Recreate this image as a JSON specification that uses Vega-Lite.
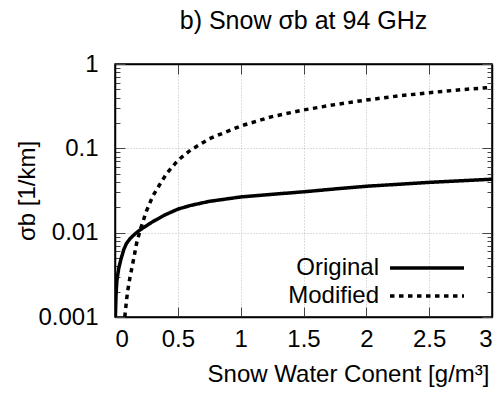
{
  "$schema": "https://vega.github.io/schema/vega-lite/v6.json",
  "width": 377,
  "height": 253,
  "autosize": {"type": "none"},
  "padding": {"left": 115, "top": 64, "right": 10, "bottom": 82},
  "background": "white",
  "title": {"text": "b) Snow σb at 94 GHz", "font": "Liberation Sans", "fontSize": 25, "fontWeight": "normal", "color": "black", "baseline": "bottom", "offset": -7, "anchor": "middle", "frame": "group"},
  "config": {
    "view": {"stroke": "black", "strokeWidth": 1.5},
    "axis": {"labelFont": "Liberation Sans", "titleFont": "Liberation Sans", "labelFontSize": 24, "titleFontSize": 24, "labelColor": "black", "titleColor": "black", "titleFontWeight": "normal", "domainColor": "black", "tickColor": "#444", "gridColor": "#bbbbbb", "gridDash": [1, 2], "gridWidth": 1}
  },
  "datasets": {
    "curves": [
      {"swc": 0.003, "sb": 0.001, "series": "Original"},
      {"swc": 0.008, "sb": 0.0018, "series": "Original"},
      {"swc": 0.015, "sb": 0.0027, "series": "Original"},
      {"swc": 0.03, "sb": 0.0038, "series": "Original"},
      {"swc": 0.05, "sb": 0.005, "series": "Original"},
      {"swc": 0.07, "sb": 0.0063, "series": "Original"},
      {"swc": 0.09, "sb": 0.0074, "series": "Original"},
      {"swc": 0.12, "sb": 0.0085, "series": "Original"},
      {"swc": 0.16, "sb": 0.0097, "series": "Original"},
      {"swc": 0.2, "sb": 0.0108, "series": "Original"},
      {"swc": 0.3, "sb": 0.0135, "series": "Original"},
      {"swc": 0.4, "sb": 0.0163, "series": "Original"},
      {"swc": 0.5, "sb": 0.019, "series": "Original"},
      {"swc": 0.6, "sb": 0.021, "series": "Original"},
      {"swc": 0.75, "sb": 0.0235, "series": "Original"},
      {"swc": 1.0, "sb": 0.0265, "series": "Original"},
      {"swc": 1.25, "sb": 0.0285, "series": "Original"},
      {"swc": 1.5, "sb": 0.0305, "series": "Original"},
      {"swc": 1.75, "sb": 0.033, "series": "Original"},
      {"swc": 2.0, "sb": 0.0355, "series": "Original"},
      {"swc": 2.5, "sb": 0.0395, "series": "Original"},
      {"swc": 3.0, "sb": 0.043, "series": "Original"},
      {"swc": 0.078, "sb": 0.001, "series": "Modified"},
      {"swc": 0.09, "sb": 0.0015, "series": "Modified"},
      {"swc": 0.1, "sb": 0.002, "series": "Modified"},
      {"swc": 0.12, "sb": 0.003, "series": "Modified"},
      {"swc": 0.15, "sb": 0.005, "series": "Modified"},
      {"swc": 0.172, "sb": 0.0075, "series": "Modified"},
      {"swc": 0.2, "sb": 0.0107, "series": "Modified"},
      {"swc": 0.25, "sb": 0.018, "series": "Modified"},
      {"swc": 0.3, "sb": 0.027, "series": "Modified"},
      {"swc": 0.35, "sb": 0.036, "series": "Modified"},
      {"swc": 0.41, "sb": 0.05, "series": "Modified"},
      {"swc": 0.5, "sb": 0.072, "series": "Modified"},
      {"swc": 0.6, "sb": 0.095, "series": "Modified"},
      {"swc": 0.75, "sb": 0.13, "series": "Modified"},
      {"swc": 1.0, "sb": 0.184, "series": "Modified"},
      {"swc": 1.25, "sb": 0.238, "series": "Modified"},
      {"swc": 1.5, "sb": 0.285, "series": "Modified"},
      {"swc": 1.75, "sb": 0.33, "series": "Modified"},
      {"swc": 2.0, "sb": 0.374, "series": "Modified"},
      {"swc": 2.25, "sb": 0.417, "series": "Modified"},
      {"swc": 2.5, "sb": 0.457, "series": "Modified"},
      {"swc": 2.75, "sb": 0.495, "series": "Modified"},
      {"swc": 3.0, "sb": 0.529, "series": "Modified"}
    ]
  },
  "data": {"name": "curves"},
  "layer": [
    {
      "mark": {"type": "line", "color": "black", "strokeWidth": 3.5, "clip": true},
      "encoding": {
        "x": {"field": "swc", "type": "quantitative", "scale": {"domain": [0, 3], "nice": false, "zero": false},
          "axis": {"orient": "bottom", "title": "Snow Water Conent [g/m³]", "values": [0, 0.5, 1, 1.5, 2, 2.5, 3], "labelExpr": "datum.value + ''", "tickSize": -10, "labelPadding": 20, "titlePadding": 11, "grid": true, "domainWidth": 1.5, "titleX": 233, "titleAnchor": "middle"}},
        "y": {"field": "sb", "type": "quantitative", "scale": {"type": "log", "domain": [0.001, 1], "nice": false},
          "axis": {"orient": "left", "title": "σb [1/km]", "values": [0.001,0.002,0.003,0.004,0.005,0.006,0.007,0.008,0.009,0.01,0.02,0.03,0.04,0.05,0.06,0.07,0.08,0.09,0.1,0.2,0.3,0.4,0.5,0.6,0.7,0.8,0.9,1],
            "labelExpr": "abs(log(datum.value)/LN10 - round(log(datum.value)/LN10)) < 0.001 ? format(datum.value, '') : ''",
            "tickSize": {"condition": {"test": "abs(log(datum.value)/LN10 - round(log(datum.value)/LN10)) < 0.001", "value": -10}, "value": -5},
            "gridOpacity": {"condition": {"test": "abs(log(datum.value)/LN10 - round(log(datum.value)/LN10)) < 0.001", "value": 1}, "value": 0},
            "grid": true, "labelPadding": 27, "titlePadding": -2, "domainWidth": 1.5}},
        "strokeDash": {"field": "series", "type": "nominal", "scale": {"domain": ["Original", "Modified"], "range": [[1, 0], [4.5, 4.5]]},
          "legend": {"orient": "none", "legendX": 300, "legendY": 192, "title": null, "symbolType": "M-3.7,0H3.7", "symbolSize": 400, "symbolStrokeWidth": 3.5, "symbolStrokeColor": "black", "symbolFillColor": "transparent", "labelFont": "Liberation Sans", "labelFontSize": 24, "labelColor": "black", "labelAlign": "right", "labelOffset": -60, "rowPadding": 4, "padding": 0}}
      }
    },
    {
      "mark": {"type": "line", "color": "black", "strokeOpacity": 0},
      "encoding": {
        "x": {"field": "swc", "type": "quantitative", "axis": {"orient": "top", "title": null, "labels": false, "values": [0, 0.5, 1, 1.5, 2, 2.5, 3], "tickSize": -10, "grid": false, "domainWidth": 1.5}},
        "y": {"field": "sb", "type": "quantitative",
          "axis": {"orient": "right", "title": null, "labels": false, "values": [0.001,0.002,0.003,0.004,0.005,0.006,0.007,0.008,0.009,0.01,0.02,0.03,0.04,0.05,0.06,0.07,0.08,0.09,0.1,0.2,0.3,0.4,0.5,0.6,0.7,0.8,0.9,1],
            "tickSize": {"condition": {"test": "abs(log(datum.value)/LN10 - round(log(datum.value)/LN10)) < 0.001", "value": -10}, "value": -5},
            "grid": false, "domainWidth": 1.5}},
        "detail": {"field": "series", "type": "nominal"}
      }
    }
  ],
  "resolve": {"axis": {"x": "independent", "y": "independent"}}
}
